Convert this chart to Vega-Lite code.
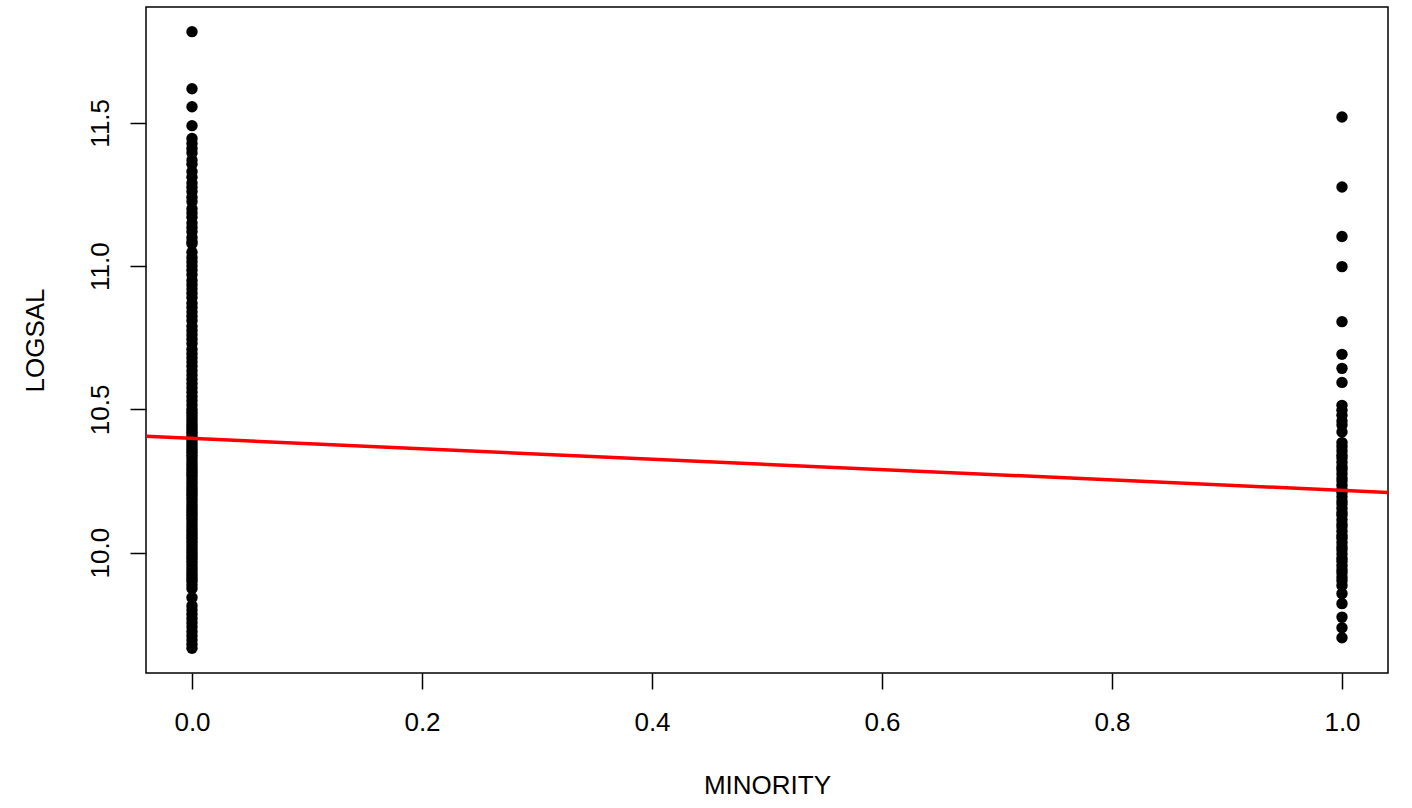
{
  "$schema": "https://vega.github.io/schema/vega-lite/v6.json",
  "autosize": "none",
  "width": 1242,
  "height": 666,
  "padding": {"left": 146, "top": 7, "right": 24, "bottom": 135},
  "background": "white",
  "config": {
    "font": "Liberation Sans",
    "view": {"stroke": "black", "strokeWidth": 1.5},
    "axis": {
      "domain": false,
      "grid": false,
      "ticks": true,
      "tickColor": "black",
      "tickWidth": 1.5,
      "tickSize": 16,
      "labelFont": "Liberation Sans",
      "labelFontSize": 26,
      "labelColor": "black",
      "titleFont": "Liberation Sans",
      "titleFontSize": 26,
      "titleFontWeight": "normal",
      "titleColor": "black"
    }
  },
  "datasets": {
    "pts": [
      {"MINORITY": 0, "LOGSAL": 11.818}, {"MINORITY": 0, "LOGSAL": 11.619}, {"MINORITY": 0, "LOGSAL": 11.556}, {"MINORITY": 0, "LOGSAL": 11.49},
      {"MINORITY": 0, "LOGSAL": 11.445}, {"MINORITY": 0, "LOGSAL": 11.428}, {"MINORITY": 0, "LOGSAL": 11.41}, {"MINORITY": 0, "LOGSAL": 11.395},
      {"MINORITY": 0, "LOGSAL": 11.37}, {"MINORITY": 0, "LOGSAL": 11.355}, {"MINORITY": 0, "LOGSAL": 11.33}, {"MINORITY": 0, "LOGSAL": 11.31},
      {"MINORITY": 0, "LOGSAL": 11.29}, {"MINORITY": 0, "LOGSAL": 11.275}, {"MINORITY": 0, "LOGSAL": 11.26}, {"MINORITY": 0, "LOGSAL": 11.24},
      {"MINORITY": 0, "LOGSAL": 11.225}, {"MINORITY": 0, "LOGSAL": 11.2}, {"MINORITY": 0, "LOGSAL": 11.185}, {"MINORITY": 0, "LOGSAL": 11.17},
      {"MINORITY": 0, "LOGSAL": 11.15}, {"MINORITY": 0, "LOGSAL": 11.135}, {"MINORITY": 0, "LOGSAL": 11.12}, {"MINORITY": 0, "LOGSAL": 11.1},
      {"MINORITY": 0, "LOGSAL": 11.085}, {"MINORITY": 0, "LOGSAL": 11.078}, {"MINORITY": 0, "LOGSAL": 11.048}, {"MINORITY": 0, "LOGSAL": 11.03},
      {"MINORITY": 0, "LOGSAL": 11.015}, {"MINORITY": 0, "LOGSAL": 11.0}, {"MINORITY": 0, "LOGSAL": 10.985}, {"MINORITY": 0, "LOGSAL": 10.97},
      {"MINORITY": 0, "LOGSAL": 10.95}, {"MINORITY": 0, "LOGSAL": 10.935}, {"MINORITY": 0, "LOGSAL": 10.92}, {"MINORITY": 0, "LOGSAL": 10.905},
      {"MINORITY": 0, "LOGSAL": 10.89}, {"MINORITY": 0, "LOGSAL": 10.87}, {"MINORITY": 0, "LOGSAL": 10.855}, {"MINORITY": 0, "LOGSAL": 10.84},
      {"MINORITY": 0, "LOGSAL": 10.825}, {"MINORITY": 0, "LOGSAL": 10.81}, {"MINORITY": 0, "LOGSAL": 10.79}, {"MINORITY": 0, "LOGSAL": 10.775},
      {"MINORITY": 0, "LOGSAL": 10.76}, {"MINORITY": 0, "LOGSAL": 10.745}, {"MINORITY": 0, "LOGSAL": 10.73}, {"MINORITY": 0, "LOGSAL": 10.71},
      {"MINORITY": 0, "LOGSAL": 10.695}, {"MINORITY": 0, "LOGSAL": 10.68}, {"MINORITY": 0, "LOGSAL": 10.665}, {"MINORITY": 0, "LOGSAL": 10.65},
      {"MINORITY": 0, "LOGSAL": 10.635}, {"MINORITY": 0, "LOGSAL": 10.62}, {"MINORITY": 0, "LOGSAL": 10.605}, {"MINORITY": 0, "LOGSAL": 10.59},
      {"MINORITY": 0, "LOGSAL": 10.575}, {"MINORITY": 0, "LOGSAL": 10.56}, {"MINORITY": 0, "LOGSAL": 10.545}, {"MINORITY": 0, "LOGSAL": 10.53},
      {"MINORITY": 0, "LOGSAL": 10.515}, {"MINORITY": 0, "LOGSAL": 10.5}, {"MINORITY": 0, "LOGSAL": 10.49}, {"MINORITY": 0, "LOGSAL": 10.48},
      {"MINORITY": 0, "LOGSAL": 10.47}, {"MINORITY": 0, "LOGSAL": 10.46}, {"MINORITY": 0, "LOGSAL": 10.45}, {"MINORITY": 0, "LOGSAL": 10.44},
      {"MINORITY": 0, "LOGSAL": 10.43}, {"MINORITY": 0, "LOGSAL": 10.42}, {"MINORITY": 0, "LOGSAL": 10.41}, {"MINORITY": 0, "LOGSAL": 10.4},
      {"MINORITY": 0, "LOGSAL": 10.39}, {"MINORITY": 0, "LOGSAL": 10.38}, {"MINORITY": 0, "LOGSAL": 10.37}, {"MINORITY": 0, "LOGSAL": 10.36},
      {"MINORITY": 0, "LOGSAL": 10.35}, {"MINORITY": 0, "LOGSAL": 10.34}, {"MINORITY": 0, "LOGSAL": 10.33}, {"MINORITY": 0, "LOGSAL": 10.32},
      {"MINORITY": 0, "LOGSAL": 10.31}, {"MINORITY": 0, "LOGSAL": 10.3}, {"MINORITY": 0, "LOGSAL": 10.29}, {"MINORITY": 0, "LOGSAL": 10.28},
      {"MINORITY": 0, "LOGSAL": 10.27}, {"MINORITY": 0, "LOGSAL": 10.26}, {"MINORITY": 0, "LOGSAL": 10.25}, {"MINORITY": 0, "LOGSAL": 10.24},
      {"MINORITY": 0, "LOGSAL": 10.23}, {"MINORITY": 0, "LOGSAL": 10.22}, {"MINORITY": 0, "LOGSAL": 10.21}, {"MINORITY": 0, "LOGSAL": 10.2},
      {"MINORITY": 0, "LOGSAL": 10.19}, {"MINORITY": 0, "LOGSAL": 10.18}, {"MINORITY": 0, "LOGSAL": 10.17}, {"MINORITY": 0, "LOGSAL": 10.16},
      {"MINORITY": 0, "LOGSAL": 10.15}, {"MINORITY": 0, "LOGSAL": 10.14}, {"MINORITY": 0, "LOGSAL": 10.13}, {"MINORITY": 0, "LOGSAL": 10.12},
      {"MINORITY": 0, "LOGSAL": 10.11}, {"MINORITY": 0, "LOGSAL": 10.1}, {"MINORITY": 0, "LOGSAL": 10.09}, {"MINORITY": 0, "LOGSAL": 10.08},
      {"MINORITY": 0, "LOGSAL": 10.07}, {"MINORITY": 0, "LOGSAL": 10.06}, {"MINORITY": 0, "LOGSAL": 10.05}, {"MINORITY": 0, "LOGSAL": 10.04},
      {"MINORITY": 0, "LOGSAL": 10.03}, {"MINORITY": 0, "LOGSAL": 10.02}, {"MINORITY": 0, "LOGSAL": 10.01}, {"MINORITY": 0, "LOGSAL": 10.0},
      {"MINORITY": 0, "LOGSAL": 9.99}, {"MINORITY": 0, "LOGSAL": 9.98}, {"MINORITY": 0, "LOGSAL": 9.97}, {"MINORITY": 0, "LOGSAL": 9.96},
      {"MINORITY": 0, "LOGSAL": 9.95}, {"MINORITY": 0, "LOGSAL": 9.94}, {"MINORITY": 0, "LOGSAL": 9.93}, {"MINORITY": 0, "LOGSAL": 9.92},
      {"MINORITY": 0, "LOGSAL": 9.91}, {"MINORITY": 0, "LOGSAL": 9.9}, {"MINORITY": 0, "LOGSAL": 9.888}, {"MINORITY": 0, "LOGSAL": 9.875},
      {"MINORITY": 0, "LOGSAL": 9.843}, {"MINORITY": 0, "LOGSAL": 9.815}, {"MINORITY": 0, "LOGSAL": 9.8}, {"MINORITY": 0, "LOGSAL": 9.785},
      {"MINORITY": 0, "LOGSAL": 9.77}, {"MINORITY": 0, "LOGSAL": 9.755}, {"MINORITY": 0, "LOGSAL": 9.74}, {"MINORITY": 0, "LOGSAL": 9.725},
      {"MINORITY": 0, "LOGSAL": 9.71}, {"MINORITY": 0, "LOGSAL": 9.695}, {"MINORITY": 0, "LOGSAL": 9.68}, {"MINORITY": 0, "LOGSAL": 9.666},
      {"MINORITY": 1, "LOGSAL": 11.52}, {"MINORITY": 1, "LOGSAL": 11.276}, {"MINORITY": 1, "LOGSAL": 11.103}, {"MINORITY": 1, "LOGSAL": 10.998},
      {"MINORITY": 1, "LOGSAL": 10.806}, {"MINORITY": 1, "LOGSAL": 10.692}, {"MINORITY": 1, "LOGSAL": 10.643}, {"MINORITY": 1, "LOGSAL": 10.594},
      {"MINORITY": 1, "LOGSAL": 10.514}, {"MINORITY": 1, "LOGSAL": 10.497}, {"MINORITY": 1, "LOGSAL": 10.479}, {"MINORITY": 1, "LOGSAL": 10.459},
      {"MINORITY": 1, "LOGSAL": 10.445}, {"MINORITY": 1, "LOGSAL": 10.421}, {"MINORITY": 1, "LOGSAL": 10.384}, {"MINORITY": 1, "LOGSAL": 10.37},
      {"MINORITY": 1, "LOGSAL": 10.355}, {"MINORITY": 1, "LOGSAL": 10.34}, {"MINORITY": 1, "LOGSAL": 10.33}, {"MINORITY": 1, "LOGSAL": 10.315},
      {"MINORITY": 1, "LOGSAL": 10.3}, {"MINORITY": 1, "LOGSAL": 10.29}, {"MINORITY": 1, "LOGSAL": 10.275}, {"MINORITY": 1, "LOGSAL": 10.26},
      {"MINORITY": 1, "LOGSAL": 10.25}, {"MINORITY": 1, "LOGSAL": 10.235}, {"MINORITY": 1, "LOGSAL": 10.22}, {"MINORITY": 1, "LOGSAL": 10.21},
      {"MINORITY": 1, "LOGSAL": 10.195}, {"MINORITY": 1, "LOGSAL": 10.18}, {"MINORITY": 1, "LOGSAL": 10.17}, {"MINORITY": 1, "LOGSAL": 10.155},
      {"MINORITY": 1, "LOGSAL": 10.14}, {"MINORITY": 1, "LOGSAL": 10.13}, {"MINORITY": 1, "LOGSAL": 10.115}, {"MINORITY": 1, "LOGSAL": 10.1},
      {"MINORITY": 1, "LOGSAL": 10.09}, {"MINORITY": 1, "LOGSAL": 10.075}, {"MINORITY": 1, "LOGSAL": 10.06}, {"MINORITY": 1, "LOGSAL": 10.05},
      {"MINORITY": 1, "LOGSAL": 10.035}, {"MINORITY": 1, "LOGSAL": 10.02}, {"MINORITY": 1, "LOGSAL": 10.01}, {"MINORITY": 1, "LOGSAL": 9.995},
      {"MINORITY": 1, "LOGSAL": 9.98}, {"MINORITY": 1, "LOGSAL": 9.97}, {"MINORITY": 1, "LOGSAL": 9.955}, {"MINORITY": 1, "LOGSAL": 9.94},
      {"MINORITY": 1, "LOGSAL": 9.93}, {"MINORITY": 1, "LOGSAL": 9.915}, {"MINORITY": 1, "LOGSAL": 9.903}, {"MINORITY": 1, "LOGSAL": 9.885},
      {"MINORITY": 1, "LOGSAL": 9.857}, {"MINORITY": 1, "LOGSAL": 9.822}, {"MINORITY": 1, "LOGSAL": 9.775}, {"MINORITY": 1, "LOGSAL": 9.738},
      {"MINORITY": 1, "LOGSAL": 9.703}
    ],
    "fit": [
      {"MINORITY": -0.04, "LOGSAL": 10.406},
      {"MINORITY": 1.04, "LOGSAL": 10.21}
    ]
  },
  "layer": [
    {
      "data": {"name": "pts"},
      "mark": {"type": "point", "shape": "circle", "filled": true, "color": "black", "opacity": 1, "size": 130},
      "encoding": {
        "x": {
          "field": "MINORITY", "type": "quantitative",
          "scale": {"domain": [-0.04, 1.04], "nice": false, "zero": false},
          "axis": {
            "title": "MINORITY",
            "values": [0, 0.2, 0.4, 0.6, 0.8, 1.0],
            "format": ".1f",
            "labelBaseline": "alphabetic",
            "labelPadding": 41,
            "titleBaseline": "alphabetic",
            "titleY": 120
          }
        },
        "y": {
          "field": "LOGSAL", "type": "quantitative",
          "scale": {"domain": [9.5799, 11.9041], "nice": false, "zero": false},
          "axis": {
            "title": "LOGSAL",
            "values": [10.0, 10.5, 11.0, 11.5],
            "format": ".1f",
            "labelAngle": -90,
            "labelAlign": "center",
            "labelBaseline": "alphabetic",
            "labelPadding": 22,
            "titleAngle": -90,
            "titleAlign": "center",
            "titleBaseline": "alphabetic",
            "titleX": -103,
            "titleY": 333
          }
        }
      }
    },
    {
      "data": {"name": "fit"},
      "mark": {"type": "line", "color": "#ff0000", "strokeWidth": 3.5, "clip": true},
      "encoding": {
        "x": {"field": "MINORITY", "type": "quantitative"},
        "y": {"field": "LOGSAL", "type": "quantitative"}
      }
    }
  ]
}
